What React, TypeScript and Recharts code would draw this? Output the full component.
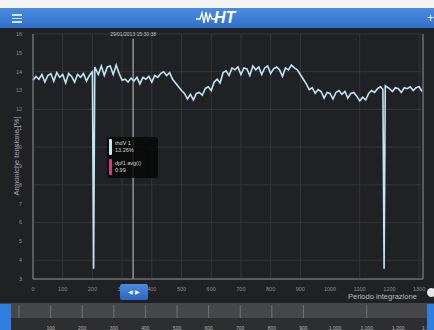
import { LineChart, Line, XAxis, YAxis, CartesianGrid, ReferenceLine, ReferenceDot } from 'recharts';

// integration periods (x) and THD voltage values (%)
const periods = [
  0, 10, 20, 30, 40, 50, 60, 70, 80, 90, 100, 110, 120, 130, 140, 150, 160, 170, 180, 190,
  200, 204, 208, 220, 230, 240, 250, 260, 270, 280, 290, 300, 310, 320, 330, 340, 350, 360,
  370, 380, 390, 400, 410, 420, 430, 440, 450, 460, 470, 480, 490, 500, 510, 520, 530, 540,
  550, 560, 570, 580, 590, 600, 610, 620, 630, 640, 650, 660, 670, 680, 690, 700, 710, 720,
  730, 740, 750, 760, 770, 780, 790, 800, 810, 820, 830, 840, 850, 860, 870, 880, 890, 900,
  910, 920, 930, 940, 950, 960, 970, 980, 990, 1000, 1010, 1020, 1030, 1040, 1050, 1060,
  1070, 1080, 1090, 1100, 1110, 1120, 1130, 1140, 1150, 1160, 1170, 1178, 1182, 1186, 1200,
  1210, 1220, 1230, 1240, 1250, 1260, 1270, 1280, 1290, 1300, 1310,
];
const thdV = [
  13.55, 13.75, 13.6, 13.85, 13.45, 13.8, 13.9, 13.5, 13.95, 13.7, 13.85, 13.4, 13.9, 13.75, 13.45, 13.85, 13.7, 13.9, 13.5, 13.8,
  14.0, 3.55, 14.25, 13.85, 14.3, 13.8, 14.25, 14.3, 13.85, 14.35, 13.9, 13.55, 13.6, 13.45, 13.65, 13.5, 13.7, 13.35,
  13.7, 13.6, 13.75, 13.45, 13.8, 13.7, 13.9, 14.0, 13.8, 13.95, 13.6, 13.4, 13.2, 13.0, 12.85, 12.55, 12.8, 12.5,
  12.85, 12.9, 12.75, 13.1, 13.2, 13.0, 13.45, 13.6, 13.4, 13.95, 14.05, 13.8, 14.2, 14.1, 14.25, 13.85, 14.2, 14.15,
  13.8, 14.3, 14.1, 14.25, 13.85, 14.2, 14.3, 13.9, 14.15, 14.25, 14.1, 13.75, 14.2, 14.1, 14.35, 14.2, 14.1, 13.85,
  13.6, 13.35, 13.05, 13.15, 12.85, 13.05, 12.95, 12.6, 12.9, 12.85, 12.55, 12.9, 13.0, 12.8, 12.95, 12.6,
  12.85, 12.9, 12.7, 12.45, 12.65, 12.5, 12.85, 13.0, 12.9, 13.1, 13.2, 13.05, 3.55, 13.25, 13.1,
  12.95, 13.15, 13.1, 12.9, 13.15, 13.1, 13.2, 13.0, 13.15, 13.2, 12.95,
];

const xTicks = [0, 100, 200, 300, 400, 500, 600, 700, 800, 900, 1000, 1100, 1200, 1300];
const yTicks = [3, 4, 5, 6, 7, 8, 9, 10, 11, 12, 13, 14, 15, 16];
const rightTicks = [0.5, 0.55, 0.6, 0.65, 0.7, 0.75, 0.8, 0.85, 0.9, 0.95, 1.0, 1.05, 1.1, 1.15, 1.2, 1.25, 1.3, 1.35, 1.4, 1.45];
const navTicks = [100, 200, 300, 400, 500, 600, 700, 800, 900, 1000, 1100, 1200, 1300];

const dpfAvg = 0.99;
const cursorPeriod = 337;
const cursorTime = '29/01/2013 15:30:38';
const tooltipRows = [
  { name: 'thdV 1', value: '13.26%', color: '#c9e9f8' },
  { name: 'dpf1 avg(i)', value: '0.99', color: '#d23a86' },
];

const rows = periods.map((p, i) => ({ period: p, thdV: thdV[i] }));

const font = '"Liberation Sans", Arial, sans-serif';

export default function App() {
  return (
    <div style={{ position: 'fixed', left: 0, top: 0, width: 434, height: 330, background: '#202124', overflow: 'hidden', fontFamily: font }}>
      {/* top strip + header bar */}
      <div style={{ position: 'absolute', left: 0, top: 0, width: 434, height: 8, background: '#f4f4f4' }} />
      <div style={{ position: 'absolute', left: 0, top: 8, width: 434, height: 20, background: 'linear-gradient(#4a8be0, #3170c8)' }}>
        <div style={{ position: 'absolute', left: 12, top: 6, width: 10 }}>
          {[0, 1, 2].map((k) => (
            <div key={k} style={{ height: 1.5, background: '#cfe0f7', marginBottom: 2 }} />
          ))}
        </div>
        <svg width={20} height={14} style={{ position: 'absolute', left: 196, top: 3 }}>
          <polyline points="0,8 4,8 6,2 8,12 10,1 12,11 14,3 16,8 20,8" fill="none" stroke="#fff" strokeWidth={1.3} />
        </svg>
        <div style={{ position: 'absolute', left: 214, top: 1, color: '#fff', fontSize: 16, fontWeight: 700, fontStyle: 'italic' }}>HT</div>
        <div style={{ position: 'absolute', left: 427, top: 3, color: '#e8f0fb', fontSize: 12 }}>+</div>
      </div>

      {/* y axis title */}
      <div style={{ position: 'absolute', left: 16, top: 156, transform: 'translate(-50%, -50%) rotate(-90deg)', color: '#a9a9a9', fontSize: 7.5, whiteSpace: 'nowrap' }}>
        Armoniche tensione [%]
      </div>

      {/* main chart */}
      <div style={{ position: 'absolute', left: 0, top: 28 }}>
        <LineChart width={434} height={274} data={rows} margin={{ top: 6, right: 0, bottom: 0, left: 0 }}>
          <CartesianGrid yAxisId="left" stroke="#3a3b3e" strokeWidth={0.8} />
          <XAxis
            type="number"
            dataKey="period"
            domain={[0, 1313]}
            ticks={xTicks}
            height={23}
            stroke="#8b8b8b"
            tickLine={false}
            tickMargin={2}
            tick={{ fill: '#8e8e8e', fontSize: 5.5 }}
          />
          <YAxis
            yAxisId="left"
            domain={[3, 16]}
            ticks={yTicks}
            width={33}
            stroke="#8b8b8b"
            tickLine={false}
            tickMargin={5}
            tick={{ fill: '#8e8e8e', fontSize: 5.5 }}
          />
          <YAxis
            yAxisId="right"
            orientation="right"
            domain={[0.46, 1.46]}
            ticks={rightTicks}
            width={11}
            stroke="#8b8b8b"
            tickLine={false}
            tickMargin={4}
            tick={{ fill: '#8e8e8e', fontSize: 5 }}
            tickFormatter={(v: number) => v.toFixed(2)}
          />
          <ReferenceLine yAxisId="right" y={dpfAvg} stroke="#b33a72" strokeWidth={1.6} />
          <ReferenceLine
            yAxisId="left"
            segment={[{ x: cursorPeriod, y: 3 }, { x: cursorPeriod, y: 15.75 }]}
            stroke="#a3a3a3"
            strokeWidth={1.3}
          />
          <ReferenceDot
            yAxisId="left"
            x={cursorPeriod}
            y={16}
            r={0}
            fill="none"
            stroke="none"
            label={{ value: cursorTime, position: 'center', fill: '#c8c8c8', fontSize: 5 }}
          />
          <Line
            yAxisId="left"
            type="linear"
            dataKey="thdV"
            stroke="#bfe5f7"
            strokeWidth={1.6}
            dot={false}
            isAnimationActive={false}
          />
        </LineChart>
      </div>

      {/* tooltip */}
      <div style={{ position: 'absolute', left: 107, top: 137, width: 51, height: 41, background: 'rgba(6,6,6,0.82)', borderRadius: 3 }}>
        {tooltipRows.map((r, i) => (
          <div key={r.name} style={{ position: 'absolute', left: 2, top: 2 + i * 20, height: 17 }}>
            <div style={{ position: 'absolute', left: 0, top: 0, width: 3, height: 16, background: r.color, borderRadius: 1 }} />
            <div style={{ position: 'absolute', left: 6, top: 1, color: '#d6d6d6', fontSize: 5.5, whiteSpace: 'nowrap', lineHeight: '7px' }}>
              {r.name}
              <br />
              {r.value}
            </div>
          </div>
        ))}
      </div>

      {/* x axis title, cursor button, info icon */}
      <div style={{ position: 'absolute', left: 348, top: 292, color: '#bdbdbd', fontSize: 7.5, lineHeight: '9px', whiteSpace: 'nowrap' }}>Periodo integrazione</div>
      <div style={{ position: 'absolute', left: 120, top: 284, width: 28, height: 16, background: 'linear-gradient(#4a8be0, #2c66be)', borderRadius: 2, color: '#fff', fontSize: 6, textAlign: 'center', lineHeight: '16px' }}>
        ◀ ▶
      </div>
      <div style={{ position: 'absolute', left: 427, top: 288, width: 9, height: 9, borderRadius: 5, background: '#e6e6e6' }} />

      {/* navigator */}
      <div style={{ position: 'absolute', left: 0, top: 303, width: 434, height: 15, background: '#464748' }} />
      <div style={{ position: 'absolute', left: 0, top: 318, width: 434, height: 12, background: '#2d2e30' }} />
      <div style={{ position: 'absolute', left: 0, top: 303 }}>
        <LineChart width={434} height={27} data={rows} margin={{ top: 2, right: 0, bottom: 0, left: 19 }}>
          <CartesianGrid horizontal={false} stroke="#7d7d7d" strokeWidth={0.8} />
          <XAxis
            type="number"
            dataKey="period"
            domain={[0, 1313]}
            ticks={navTicks}
            height={12}
            axisLine={false}
            tickLine={false}
            tickMargin={2}
            tick={{ fill: '#b5b5b5', fontSize: 5 }}
            tickFormatter={(v: number) => v.toLocaleString('en-US')}
          />
          <YAxis hide domain={[3, 16]} />
          <Line dataKey="thdV" stroke="none" dot={false} isAnimationActive={false} />
        </LineChart>
      </div>
      <div style={{ position: 'absolute', left: 0, top: 304, width: 11, height: 26, background: '#2f7fe0' }} />
      <div style={{ position: 'absolute', left: 427, top: 304, width: 7, height: 26, background: '#2f7fe0' }} />
    </div>
  );
}
